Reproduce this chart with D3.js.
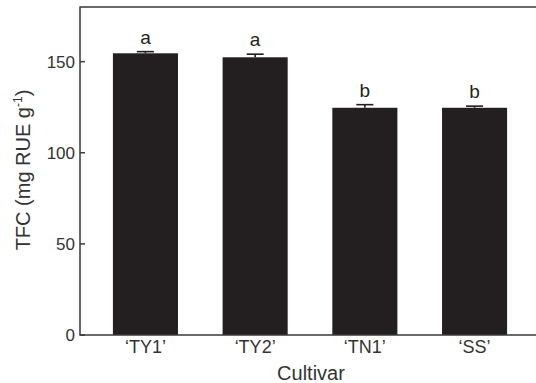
<!DOCTYPE html>
<html>
<head>
<meta charset="utf-8">
<script src="https://cdn.jsdelivr.net/npm/d3@7"></script>
<style>
  html, body { margin: 0; padding: 0; background: #fff; }
  svg { display: block; font-family: "Liberation Sans", Arial, sans-serif; }
</style>
</head>
<body>
<svg id="chart" width="536" height="383"></svg>
<script>
// 數據
const cultivars = ['\u2018TY1\u2019', '\u2018TY2\u2019', '\u2018TN1\u2019', '\u2018SS\u2019'];
const tfcValues = [154.6, 152.4, 124.7, 124.7];
const tfcErrors = [0.9, 1.7, 1.7, 0.9];
const groupLetters = ['a', 'a', 'b', 'b'];
const yTicks = [0, 50, 100, 150];

const svg = d3.select('#chart');
const plotLeft = 80, plotRight = 536, plotTop = 7, plotBottom = 335;
const axisColor = '#3a3a3a';
const barColor = '#231f20';

// 比例尺
const x = d3.scaleBand()
    .domain(cultivars)
    .range([plotLeft, 540])
    .paddingInner(0.407)
    .paddingOuter(0.3);

const y = d3.scaleLinear()
    .domain([0, 180])
    .range([plotBottom, plotTop]);

const data = cultivars.map((c, i) => ({
    name: c, value: tfcValues[i], err: tfcErrors[i], letter: groupLetters[i]
}));

// 柱子
svg.append('g').selectAll('rect')
    .data(data)
    .join('rect')
    .attr('x', d => x(d.name))
    .attr('y', d => y(d.value))
    .attr('width', x.bandwidth())
    .attr('height', d => y(0) - y(d.value))
    .attr('fill', barColor);

// 誤差線（只向上）
const eb = svg.append('g').attr('stroke', barColor).attr('stroke-width', 1.6);
data.forEach(d => {
    const cx = x(d.name) + x.bandwidth() / 2;
    eb.append('line')
        .attr('x1', cx).attr('x2', cx)
        .attr('y1', y(d.value)).attr('y2', y(d.value + d.err));
    eb.append('line')
        .attr('x1', cx - 8.5).attr('x2', cx + 8.5)
        .attr('y1', y(d.value + d.err)).attr('y2', y(d.value + d.err));
});

// 顯著性字母
svg.append('g').selectAll('text')
    .data(data)
    .join('text')
    .attr('x', d => x(d.name) + x.bandwidth() / 2)
    .attr('y', d => y(d.value + d.err) - 8)
    .attr('text-anchor', 'middle')
    .attr('font-size', '19px')
    .attr('fill', '#231f20')
    .text(d => d.letter);

// 邊框：左、上、下
const frame = svg.append('g').attr('stroke', axisColor).attr('stroke-width', 1.5).attr('fill', 'none');
frame.append('path').attr('d', `M${plotRight},${plotTop}H${plotLeft}V${plotBottom}H${plotRight}`);

// Y 軸刻度（向內）
const yAxis = svg.append('g');
yTicks.forEach(t => {
    yAxis.append('line')
        .attr('x1', plotLeft).attr('x2', plotLeft + 5)
        .attr('y1', y(t)).attr('y2', y(t))
        .attr('stroke', axisColor).attr('stroke-width', 1.5);
    yAxis.append('text')
        .attr('x', plotLeft - 5)
        .attr('y', y(t))
        .attr('dy', '0.35em')
        .attr('text-anchor', 'end')
        .attr('font-size', '17px')
        .attr('fill', '#333')
        .text(t);
});

// X 軸標籤
svg.append('g').selectAll('text')
    .data(cultivars)
    .join('text')
    .attr('x', d => x(d) + x.bandwidth() / 2)
    .attr('y', 353)
    .attr('text-anchor', 'middle')
    .attr('font-size', '18px')
    .attr('fill', '#333')
    .text(d => d);

// 軸標題
svg.append('text')
    .attr('x', (plotLeft + plotRight) / 2 + 3)
    .attr('y', 380)
    .attr('text-anchor', 'middle')
    .attr('font-size', '20px')
    .attr('fill', '#333')
    .text('Cultivar');

const yTitle = svg.append('text')
    .attr('transform', 'translate(30,170) rotate(-90)')
    .attr('text-anchor', 'middle')
    .attr('font-size', '20px')
    .attr('fill', '#333');
yTitle.append('tspan').text('TFC (mg RUE g');
yTitle.append('tspan').attr('font-size', '12px').attr('dy', '-8').text('-1');
yTitle.append('tspan').attr('dy', '8').text(')');
</script>
</body>
</html>
